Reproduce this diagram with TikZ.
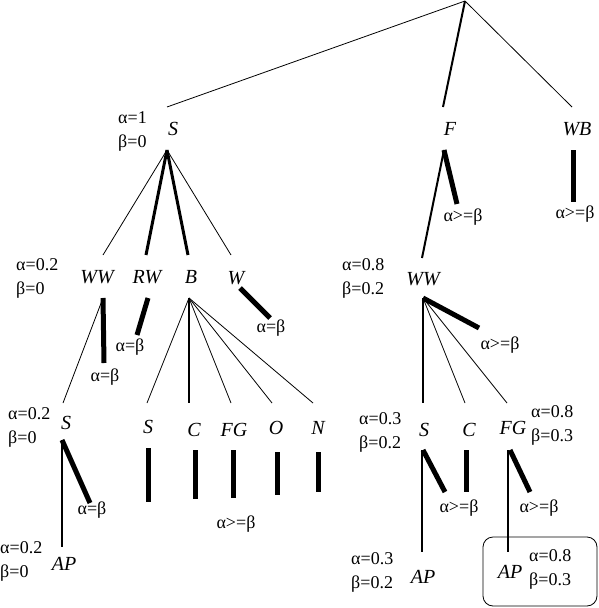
\documentclass[tikz,border=0pt]{standalone}
\usepackage{fontspec}
\setmainfont{Liberation Serif}

\begin{document}
\begin{tikzpicture}[x=1pt,y=-1pt,
lbl/.style={font=\fontsize{20}{22}\selectfont\itshape,inner sep=0pt},
val/.style={font=\fontsize{18}{24}\selectfont,align=left,inner sep=0pt,anchor=west},
cond/.style={font=\fontsize{18}{20}\selectfont,inner sep=0pt},
lnk/.style={line width=0.8pt},
mid/.style={line width=2pt},
heavy/.style={line width=3pt},
prune/.style={line width=5pt}
]
\useasboundingbox (0,0) rectangle (598,608);

% root
\coordinate (top) at (465,1);

% level 1
\node[lbl] (s1) at (173,129) {S};
\node[val] (s1v) at (118,131) {α=1\\β=0};
\node[lbl] (f1) at (450,129) {F};
\node[lbl] (wb1) at (577,129) {WB};
\node[cond] (f1c) at (463,217) {α>=β};
\node[cond] (wb1c) at (575,214) {α>=β};
\coordinate (s1in) at (167,107);
\coordinate (s1out) at (167,150);
\coordinate (f1in) at (443,107);
\coordinate (f1out) at (444,150);
\coordinate (f1cut) at (457,204);
\coordinate (wb1in) at (572,107);
\coordinate (wb1out) at (573,150);
\coordinate (wb1cut) at (573,202);

\draw[lnk] (top) -- (s1in);
\draw[mid] (top) -- (f1in);
\draw[lnk] (top) -- (wb1in);
\draw[mid] (f1out) -- (422,258) coordinate (ww2rin);
\draw[prune] (f1out) -- (f1cut);
\draw[prune] (wb1out) -- (wb1cut);

% level 2, left
\node[lbl] (ww2) at (97,277) {WW};
\node[val] (ww2v) at (16,278) {α=0.2\\β=0};
\node[lbl] (rw2) at (147,277) {RW};
\node[lbl] (b2) at (191,277) {B};
\node[lbl] (w2) at (236,278) {W};
\node[cond] (ww2c) at (105,377) {α=β};
\node[cond] (rw2c) at (130,347) {α=β};
\node[cond] (w2c) at (271,328) {α=β};
\coordinate (ww2in) at (103,255);
\coordinate (rw2in) at (146,255);
\coordinate (b2in) at (188,255);
\coordinate (w2in) at (231,255);
\coordinate (ww2out) at (103,298);
\coordinate (ww2cut) at (104,363);
\coordinate (rw2out) at (148,298);
\coordinate (rw2cut) at (137,335);
\coordinate (b2out) at (189,298);
\coordinate (w2out) at (240,288);
\coordinate (w2cut) at (270,318);

\draw[lnk] (s1out) -- (ww2in);
\draw[heavy] (s1out) -- (rw2in);
\draw[heavy] (s1out) -- (b2in);
\draw[lnk] (s1out) -- (w2in);
\draw[prune] (ww2out) -- (ww2cut);
\draw[prune] (rw2out) -- (rw2cut);
\draw[prune] (w2out) -- (w2cut);

% level 2, right
\node[lbl] (ww2r) at (423,279) {WW};
\node[val] (ww2rv) at (342,278) {α=0.8\\β=0.2};
\node[cond] (ww2rc) at (500,345) {α>=β};
\coordinate (ww2rout) at (423,298);
\coordinate (ww2rcut) at (479,328);
\draw[prune] (ww2rout) -- (ww2rcut);

% level 3, under WW
\node[lbl] (s3) at (66,423) {S};
\node[val] (s3v) at (8,427) {α=0.2\\β=0};
\node[cond] (s3c) at (92,510) {α=β};
\coordinate (s3in) at (63,403);
\coordinate (s3out) at (62,440);
\coordinate (s3cut) at (90,503);
\draw[lnk] (ww2out) -- (s3in);
\draw[mid] (s3out) -- (62,547) coordinate (ap4in);
\draw[prune] (s3out) -- (s3cut);
\node[lbl] (ap4) at (64,564) {AP};
\node[val] (ap4v) at (0,561) {α=0.2\\β=0};

% level 3, under B
\node[lbl] (bs3) at (148,427) {S};
\node[lbl] (bc3) at (194,430) {C};
\node[lbl] (bfg3) at (234,430) {FG};
\node[lbl] (bo3) at (276,428) {O};
\node[lbl] (bn3) at (318,428) {N};
\node[cond] (b3c) at (236,524) {α>=β};
\draw[lnk] (b2out) -- (147,403) coordinate (bs3in);
\draw[mid] (b2out) -- (189,403) coordinate (bc3in);
\draw[lnk] (b2out) -- (231,403) coordinate (bfg3in);
\draw[lnk] (b2out) -- (272,403) coordinate (bo3in);
\draw[lnk] (b2out) -- (313,403) coordinate (bn3in);
\foreach \x/\a/\b in {148/448/502, 195/450/499, 233/450/498, 277/452/495, 318/452/492}
  \draw[prune] (\x,\a) -- (\x,\b);

% level 3, under WW right
\node[lbl] (s3r) at (424,430) {S};
\node[val] (s3rv) at (359,432) {α=0.3\\β=0.2};
\node[lbl] (c3r) at (469,430) {C};
\node[lbl] (fg3r) at (513,428) {FG};
\node[val] (fg3rv) at (531,425) {α=0.8\\β=0.3};
\node[cond] (c3rc) at (459,508) {α>=β};
\node[cond] (fg3rc) at (539,508) {α>=β};
\coordinate (s3rin) at (423,403);
\coordinate (c3rin) at (465,403);
\coordinate (fg3rin) at (507,403);
\coordinate (s3rout) at (422,450);
\coordinate (c3rout) at (466,450);
\coordinate (fg3rout) at (508,450);
\draw[mid] (ww2rout) -- (s3rin);
\draw[lnk] (ww2rout) -- (c3rin);
\draw[lnk] (ww2rout) -- (fg3rin);
\draw[prune] (423,450) -- (445,492) coordinate (s3rcut);
\draw[prune] (c3rout) -- (466,492) coordinate (c3rcut);
\draw[prune] (510,450) -- (530,492) coordinate (fg3rcut);

% leaves
\node[lbl] (ap4r) at (423,577) {AP};
\node[val] (ap4rv) at (351,572) {α=0.3\\β=0.2};
\node[lbl] (ap4b) at (510,572) {AP};
\node[val] (ap4bv) at (529,569) {α=0.8\\β=0.3};
\draw[mid] (s3rout) -- (422,552) coordinate (ap4rin);
\draw[mid] (fg3rout) -- (508,552) coordinate (ap4bin);
\draw[lnk,rounded corners=10pt] (483,537) rectangle (597,606);
\end{tikzpicture}
\end{document}
